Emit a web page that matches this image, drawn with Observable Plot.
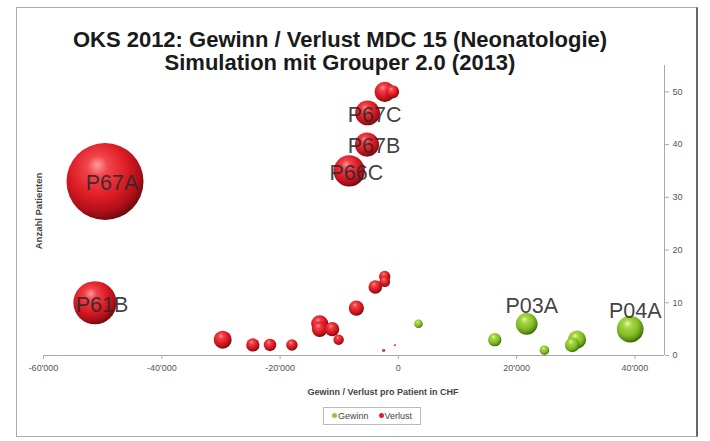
<!DOCTYPE html>
<html><head><meta charset="utf-8">
<script src="https://cdn.jsdelivr.net/npm/d3@7"></script>
<script src="https://cdn.jsdelivr.net/npm/@observablehq/plot@0.6"></script>
<style>
body{margin:0;background:#fff;font-family:"Liberation Sans",Arial,sans-serif;}
#wrap{position:relative;width:710px;height:441px;overflow:hidden;background:#fff;}
#frame{position:absolute;left:16px;top:7px;width:682px;height:430px;border:1px solid #aaa;border-right:2px solid #666;box-sizing:border-box;}
.title{position:absolute;left:0;width:680px;text-align:center;font-weight:bold;font-size:22px;color:#1a1a1a;line-height:24px;}
#ylab{position:absolute;left:38px;top:211px;transform:translate(-50%,-50%) rotate(-90deg);font-weight:bold;font-size:9.5px;color:#444;white-space:nowrap;}
#xlab{position:absolute;left:0;width:766px;top:387px;text-align:center;font-weight:bold;font-size:9px;color:#444;}
#legend{position:absolute;left:323px;top:407px;width:98px;height:18px;border:1px solid #bbb;box-sizing:border-box;font-size:9px;color:#444;display:flex;align-items:center;justify-content:center;gap:10px;}
#legend span.d{display:inline-block;width:5px;height:5px;border-radius:50%;margin-right:1px;vertical-align:middle;position:relative;top:-1px;}
#chart{position:absolute;left:0;top:0;}
</style>
</head><body>
<div id="wrap">
  <div id="frame"></div>
  <div id="chart"></div>
  <div class="title" style="top:28px">OKS 2012: Gewinn / Verlust MDC 15 (Neonatologie)</div>
  <div class="title" style="top:51px">Simulation mit Grouper 2.0 (2013)</div>
  <div id="ylab">Anzahl Patienten</div>
  <div id="xlab">Gewinn / Verlust pro Patient in CHF</div>
  <div id="legend"><span><span class="d" style="background:#8cc63f"></span>Gewinn</span><span><span class="d" style="background:#e3202a"></span>Verlust</span></div>
</div>
<script>
// Verlust (loss) series: gain/loss per patient (CHF), number of patients, total (kCHF, bubble size), label
const lossX = [-49600, -51300, -5200, -5300, -8300, -2300, -1000, -29700, -24600, -21700, -18000, -13300, -13300, -11200, -10100, -7100, -3900, -2300, -2300, -2500, -600];
const lossY = [33, 10, 46, 40, 35, 50, 50, 3, 2, 2, 2, 6, 5, 5, 3, 9, 13, 15, 14, 1, 2];
const lossSize = [1637, 513, 170, 160, 270, 115, 50, 89, 49, 43, 36, 80, 67, 56, 30, 64, 51, 35, 32, 2.5, 1.2];
const lossLabel = ["P67A", "P61B", "P67C", "P67B", "P66C", "", "", "", "", "", "", "", "", "", "", "", "", "", "", "", ""];

// Gewinn (gain) series
const gainX = [21700, 39200, 16300, 24700, 30200, 29400, 3400];
const gainY = [6, 5, 3, 1, 3, 2, 6];
const gainSize = [130, 196, 49, 25, 91, 59, 20];
const gainLabel = ["P03A", "P04A", "", "", "", "", ""];

const xTicks = [-60000, -40000, -20000, 0, 20000, 40000];
const yTicks = [0, 10, 20, 30, 40, 50];

const loss = lossX.map((x, i) => ({x, y: lossY[i], size: lossSize[i], label: lossLabel[i]}));
const gain = gainX.map((x, i) => ({x, y: gainY[i], size: gainSize[i], label: gainLabel[i]}));

const fmt = d3.formatLocale({decimal: ".", thousands: "'", grouping: [3], currency: ["", ""], minus: "-"}).format(",");

const defs = () => {
  const g = d3.create("svg:defs");
  const mk = (id, stops) => {
    const rg = g.append("radialGradient").attr("id", id)
      .attr("cx", "42%").attr("cy", "38%").attr("r", "62%").attr("fx", "40%").attr("fy", "28%");
    stops.forEach(([o, c]) => rg.append("stop").attr("offset", o).attr("stop-color", c));
  };
  mk("gRed", [["0%", "#ff9c9c"], ["22%", "#f2444a"], ["60%", "#dc1c24"], ["86%", "#ad0f19"], ["100%", "#760a0f"]]);
  mk("gGreen", [["0%", "#e4f8a8"], ["25%", "#a8d645"], ["62%", "#86bf26"], ["86%", "#5f9414"], ["100%", "#3c650a"]]);
  return g.node();
};

const chart = Plot.plot({
  width: 710,
  height: 441,
  marginLeft: 43,
  marginRight: 46,
  marginTop: 65,
  marginBottom: 86,
  style: {fontFamily: "'Liberation Sans', Arial, sans-serif", fontSize: "9px", color: "#555", background: "transparent"},
  x: {domain: [-60000, 45000]},
  y: {domain: [0, 55]},
  r: {domain: [0, 1637], range: [0, 38.5]},
  marks: [
    defs,
    Plot.ruleY([0], {stroke: "#a8a8a8"}),
    Plot.ruleX([45000], {stroke: "#a8a8a8"}),
    Plot.axisX({anchor: "bottom", ticks: xTicks, tickFormat: fmt, tickSize: 4, tickPadding: 5, label: null, stroke: "#aaa", fill: "#555"}),
    Plot.axisY({anchor: "right", ticks: yTicks, tickSize: 4, tickPadding: 4, label: null, stroke: "#aaa", fill: "#555"}),
    Plot.dot(gain, {x: "x", y: "y", r: "size", fill: "url(#gGreen)", stroke: "none"}),
    Plot.dot(loss, {x: "x", y: "y", r: "size", fill: "url(#gRed)", stroke: "none"}),
    Plot.text(loss.filter(d => d.label), {x: "x", y: "y", text: "label", dx: 7, dy: 2, fontSize: 21.5, fill: "#2a2a2a", fillOpacity: 0.9}),
    Plot.text(gain.filter(d => d.label), {x: "x", y: "y", text: "label", dx: 5, dy: -18, fontSize: 21.5, fill: "#2a2a2a", fillOpacity: 0.9})
  ]
});
document.getElementById("chart").appendChild(chart);
</script>
</body></html>
